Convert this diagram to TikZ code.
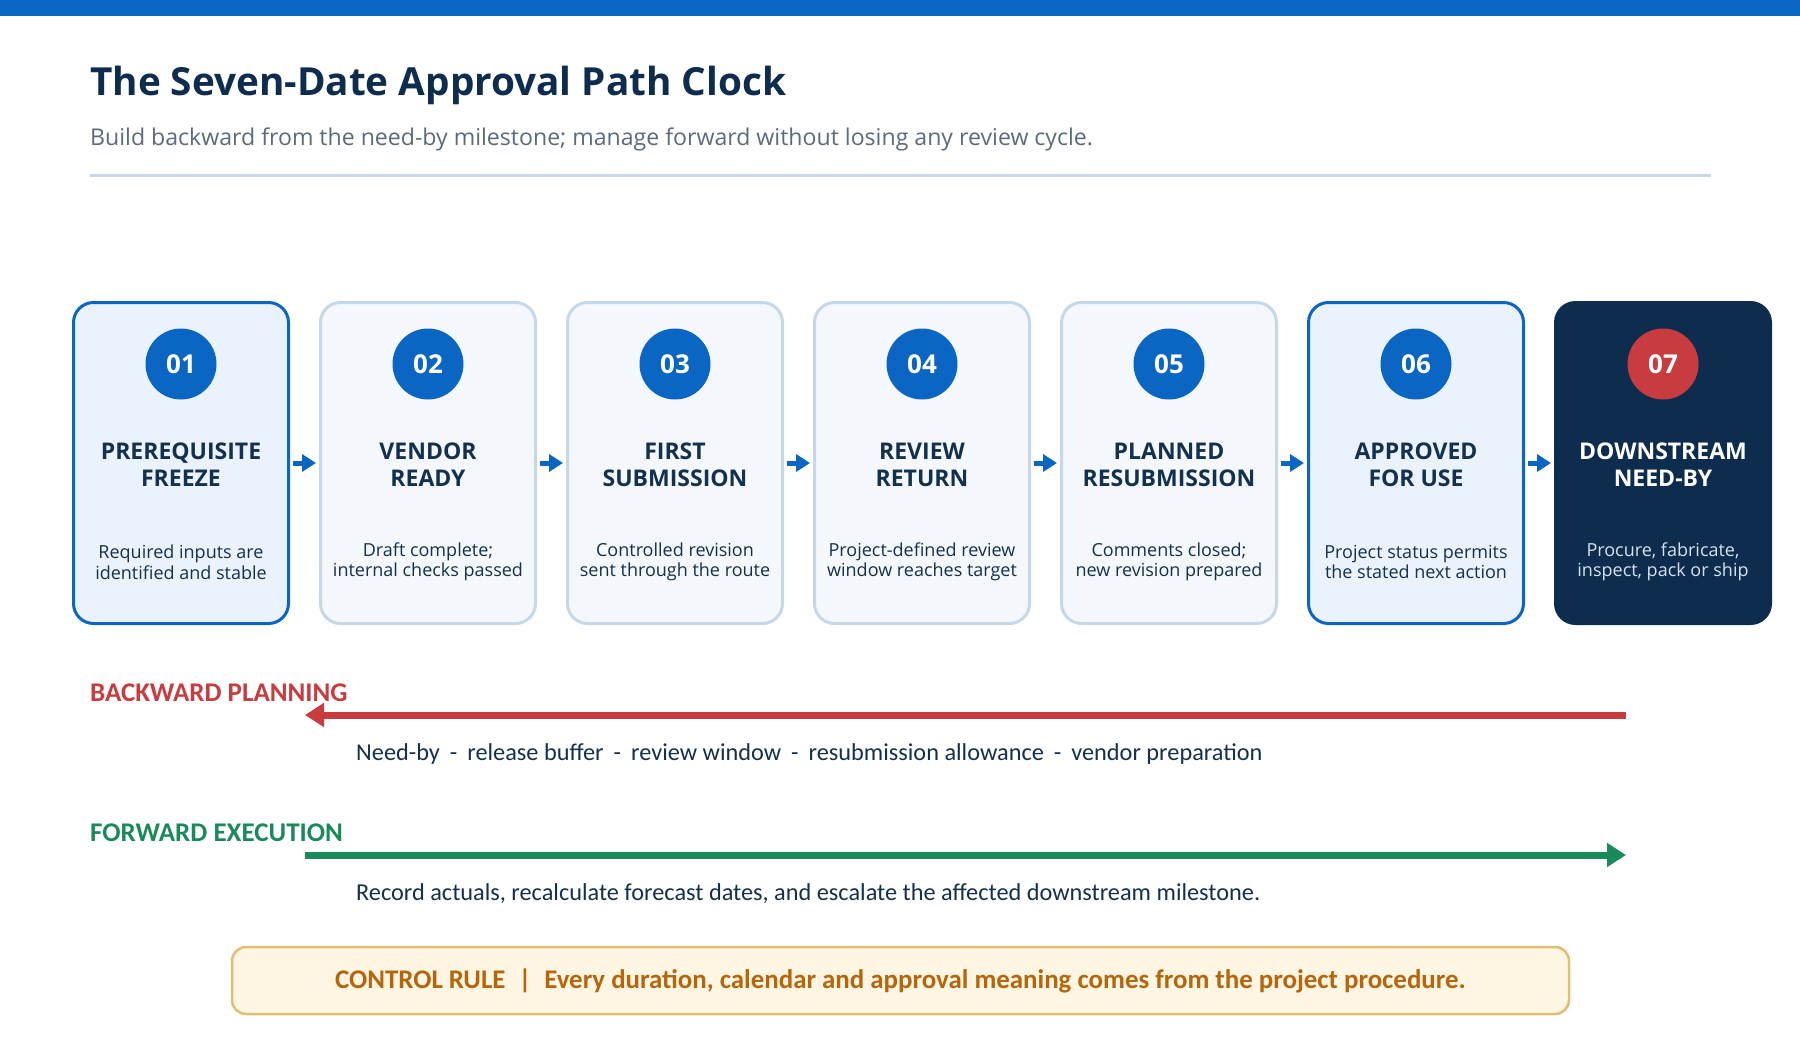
\documentclass[tikz,border=0pt]{standalone}
\usepackage{fontspec}
\setmainfont{Carlito}
\newfontfamily\headfont{Open Sans}
\usetikzlibrary{positioning, arrows.meta}

\begin{document}
\begin{tikzpicture}[
    x=1pt, y=-1pt,
    node distance=29pt,
    >={Triangle[length=19pt, width=23pt]},
    stage/.style={
        rectangle,
        draw=#1,
        line width=3pt,
        rounded corners=20pt,
        minimum width=215pt,
        minimum height=321pt,
        inner sep=0pt
    },
    badge/.style={
        circle,
        fill=#1,
        minimum size=71pt,
        inner sep=0pt,
        font=\headfont\bfseries\fontsize{26}{30}\selectfont,
        text=white
    },
    heading/.style={
        align=center,
        inner sep=0pt,
        font=\headfont\bfseries\fontsize{23}{27}\selectfont,
        text=#1
    },
    caption/.style={
        align=center,
        inner sep=0pt,
        font=\headfont\fontsize{18}{20.5}\selectfont,
        text=#1
    },
    flow/.style={
        -{Triangle[length=14pt, width=17pt]},
        line width=5pt,
        draw=blue_main,
        shorten <=2.5pt,
        shorten >=3pt
    },
    lane/.style={
        ->,
        line width=7pt,
        draw=#1
    },
    lanelabel/.style={
        anchor=base west,
        inner sep=0pt,
        font=\bfseries\fontsize{27}{30}\selectfont,
        text=#1
    },
    lanetext/.style={
        anchor=base west,
        inner sep=0pt,
        font=\fontsize{24.3}{28}\selectfont,
        text=navy_text
    },
    rulebox/.style={
        rectangle,
        draw=amber_line,
        fill=amber_fill,
        line width=2.5pt,
        rounded corners=14pt,
        minimum width=1337pt,
        minimum height=67pt,
        font=\bfseries\fontsize{26.9}{30}\selectfont,
        text=amber_text
    }
]

% Colors
\definecolor{blue_main}{HTML}{0B66C3}
\definecolor{blue_soft}{HTML}{EAF3FD}
\definecolor{panel_soft}{HTML}{F4F8FC}
\definecolor{line_soft}{HTML}{C6D8E7}
\definecolor{navy_dark}{HTML}{0E2C4E}
\definecolor{navy_text}{HTML}{14304F}
\definecolor{gray_text}{HTML}{5B6B7C}
\definecolor{rule_line}{HTML}{C8D9E6}
\definecolor{red_main}{HTML}{C83C3F}
\definecolor{green_main}{HTML}{1B8A5A}
\definecolor{amber_fill}{HTML}{FFF5E3}
\definecolor{amber_line}{HTML}{E0BE74}
\definecolor{amber_text}{HTML}{B5650B}
\definecolor{pale_text}{HTML}{D6E2EE}

% Canvas
\useasboundingbox (0,0) rectangle (1800,1050);
\fill[white] (0,0) rectangle (1800,1050);
\fill[blue_main] (0,0) rectangle (1800,16);

% Title
\node[anchor=base west, inner sep=0pt, font=\headfont\bfseries\fontsize{38.7}{44}\selectfont, text=navy_dark] (title) at (90,95) {The Seven-Date Approval Path Clock};
\node[anchor=base west, inner sep=0pt, font=\headfont\fontsize{23.1}{27}\selectfont, text=gray_text] (subtitle) at (90,145) {Build backward from the need-by milestone; manage forward without losing any review cycle.};
\draw[rule_line, line width=3pt] (90,175) -- (1711,175);

% Stage 1
\node[stage=blue_main, fill=blue_soft] (S1) at (181,463) {};
\node[badge=blue_main] (N1) at ([yshift=-63pt]S1.north) {01};
\node[heading=navy_text] (H1) at ([yshift=-164pt]S1.north) {PREREQUISITE\\FREEZE};
\node[caption=navy_text] (D1) at ([yshift=-261pt]S1.north) {Required inputs are\\identified and stable};

% Stage 2
\node[stage=line_soft, fill=panel_soft, right=of S1] (S2) {};
\node[badge=blue_main] (N2) at ([yshift=-63pt]S2.north) {02};
\node[heading=navy_text] (H2) at ([yshift=-164pt]S2.north) {VENDOR\\READY};
\node[caption=navy_text] (D2) at ([yshift=-261pt]S2.north) {Draft complete;\\internal checks passed};

% Stage 3
\node[stage=line_soft, fill=panel_soft, right=of S2] (S3) {};
\node[badge=blue_main] (N3) at ([yshift=-63pt]S3.north) {03};
\node[heading=navy_text] (H3) at ([yshift=-164pt]S3.north) {FIRST\\SUBMISSION};
\node[caption=navy_text] (D3) at ([yshift=-261pt]S3.north) {Controlled revision\\sent through the route};

% Stage 4
\node[stage=line_soft, fill=panel_soft, right=of S3] (S4) {};
\node[badge=blue_main] (N4) at ([yshift=-63pt]S4.north) {04};
\node[heading=navy_text] (H4) at ([yshift=-164pt]S4.north) {REVIEW\\RETURN};
\node[caption=navy_text] (D4) at ([yshift=-261pt]S4.north) {Project-defined review\\window reaches target};

% Stage 5
\node[stage=line_soft, fill=panel_soft, right=of S4] (S5) {};
\node[badge=blue_main] (N5) at ([yshift=-63pt]S5.north) {05};
\node[heading=navy_text] (H5) at ([yshift=-164pt]S5.north) {PLANNED\\RESUBMISSION};
\node[caption=navy_text] (D5) at ([yshift=-261pt]S5.north) {Comments closed;\\new revision prepared};

% Stage 6
\node[stage=blue_main, fill=blue_soft, right=of S5] (S6) {};
\node[badge=blue_main] (N6) at ([yshift=-63pt]S6.north) {06};
\node[heading=navy_text] (H6) at ([yshift=-164pt]S6.north) {APPROVED\\FOR USE};
\node[caption=navy_text] (D6) at ([yshift=-261pt]S6.north) {Project status permits\\the stated next action};

% Stage 7
\node[stage=navy_dark, fill=navy_dark, right=of S6] (S7) {};
\node[badge=red_main] (N7) at ([yshift=-63pt]S7.north) {07};
\node[heading=white] (H7) at ([yshift=-164pt]S7.north) {DOWNSTREAM\\NEED-BY};
\node[caption=pale_text] (D7) at ([yshift=-261pt]S7.north) {Procure, fabricate,\\inspect, pack or ship};

% Stage arrows
\draw[flow] (S1.east) -- (S2.west);
\draw[flow] (S2.east) -- (S3.west);
\draw[flow] (S3.east) -- (S4.west);
\draw[flow] (S4.east) -- (S5.west);
\draw[flow] (S5.east) -- (S6.west);
\draw[flow] (S6.east) -- (S7.west);

% Backward planning
\node[lanelabel=red_main] (backlabel) at (90,701) {BACKWARD PLANNING};
\coordinate (backfrom) at (1626,715);
\coordinate (backto) at (305,715);
\draw[lane=red_main] (backfrom) -- (backto);
\node[lanetext] (backtext) at (356,760) {Need-by\hspace{10pt}-\hspace{10pt}release buffer\hspace{10pt}-\hspace{10pt}review window\hspace{10pt}-\hspace{10pt}resubmission allowance\hspace{10pt}-\hspace{10pt}vendor preparation};

% Forward execution
\node[lanelabel=green_main] (forelabel) at (90,841) {FORWARD EXECUTION};
\coordinate (forefrom) at (305,855);
\coordinate (foreto) at (1626,855);
\draw[lane=green_main] (forefrom) -- (foreto);
\node[lanetext] (foretext) at (356,900) {Record actuals, recalculate forecast dates, and escalate the affected downstream milestone.};

% Control rule
\node[rulebox] (rule) at (900.5,980.5) {CONTROL RULE\hspace{13pt}|\hspace{13pt}Every duration, calendar and approval meaning comes from the project procedure.};

\end{tikzpicture}
\end{document}
